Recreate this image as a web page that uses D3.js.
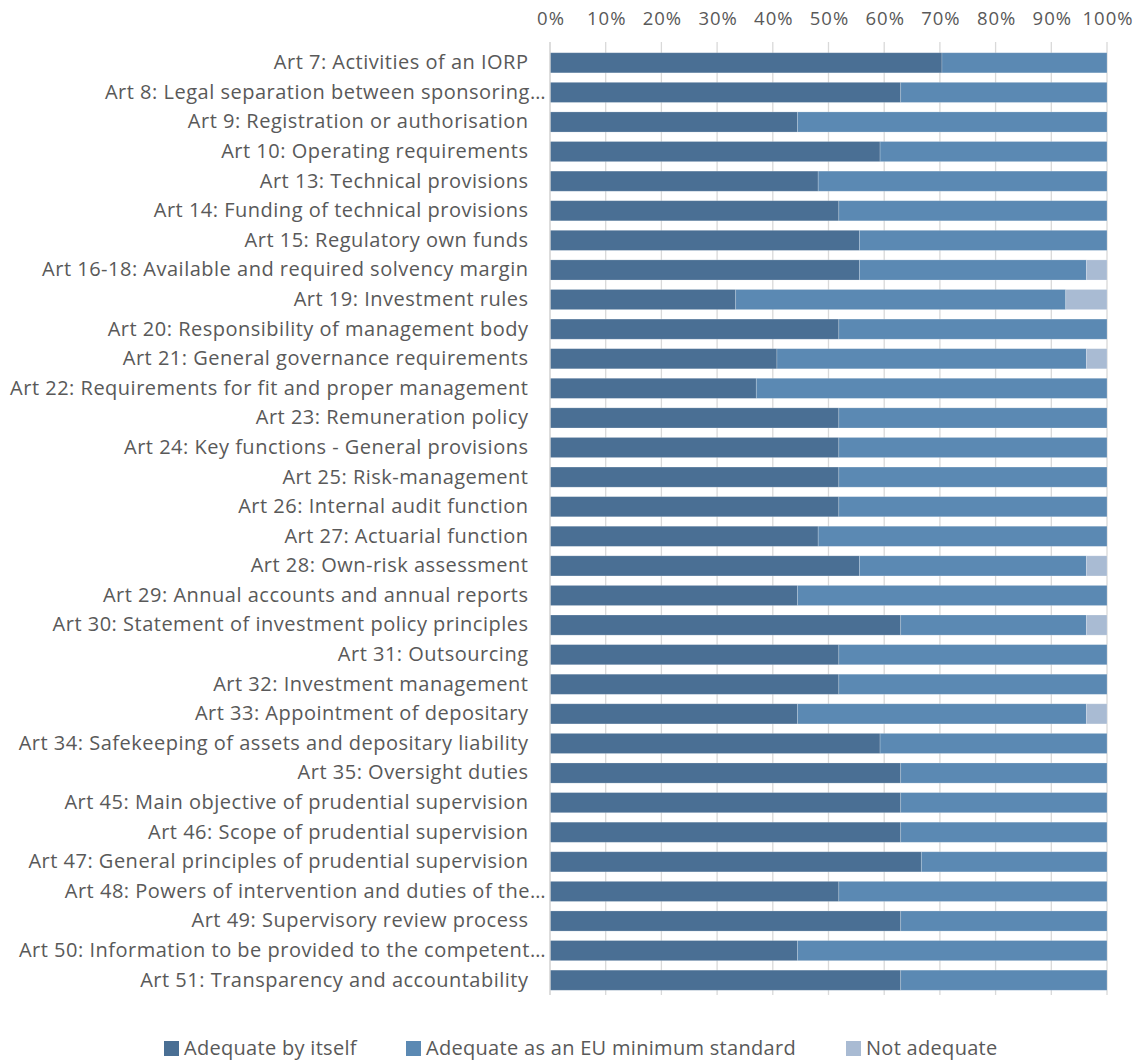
<!DOCTYPE html>
<html>
<head>
<meta charset="utf-8">
<script src="https://cdn.jsdelivr.net/npm/d3@7"></script>
<style>
  html, body { margin: 0; padding: 0; background: #fff; }
  svg text { font-family: "Open Sans", "Noto Sans", sans-serif; fill: #595959; }
</style>
</head>
<body>
<svg id="chart" width="1142" height="1061"></svg>
<script>
// Articles assessed (top to bottom)
const articles = [
  "Art 7: Activities of an IORP",
  "Art 8: Legal separation between sponsoring…",
  "Art 9: Registration or authorisation",
  "Art 10: Operating requirements",
  "Art 13: Technical provisions",
  "Art 14: Funding of technical provisions",
  "Art 15: Regulatory own funds",
  "Art 16-18: Available and required solvency margin",
  "Art 19: Investment rules",
  "Art 20: Responsibility of management body",
  "Art 21: General governance requirements",
  "Art 22: Requirements for fit and proper management",
  "Art 23: Remuneration policy",
  "Art 24: Key functions - General provisions",
  "Art 25: Risk-management",
  "Art 26: Internal audit function",
  "Art 27: Actuarial function",
  "Art 28: Own-risk assessment",
  "Art 29: Annual accounts and annual reports",
  "Art 30: Statement of investment policy principles",
  "Art 31: Outsourcing",
  "Art 32: Investment management",
  "Art 33: Appointment of depositary",
  "Art 34: Safekeeping of assets and depositary liability",
  "Art 35: Oversight duties",
  "Art 45: Main objective of prudential supervision",
  "Art 46: Scope of prudential supervision",
  "Art 47: General principles of prudential supervision",
  "Art 48: Powers of intervention and duties of the…",
  "Art 49: Supervisory review process",
  "Art 50: Information to be provided to the competent…",
  "Art 51: Transparency and accountability"
];

// Number of responses per assessment (27 respondents per article)
const adequateByItself = [19,17,12,16,13,14,15,15, 9,14,11,10,14,14,14,14,13,15,12,17,14,14,12,16,17,17,17,18,14,17,12,17];
const adequateMinimum  = [ 8,10,15,11,14,13,12,11,16,13,15,17,13,13,13,13,14,11,15, 9,13,13,14,11,10,10,10, 9,13,10,15,10];
const notAdequate      = [ 0, 0, 0, 0, 0, 0, 0, 1, 2, 0, 1, 0, 0, 0, 0, 0, 0, 1, 0, 1, 0, 0, 1, 0, 0, 0, 0, 0, 0, 0, 0, 0];

const seriesNames = ["Adequate by itself", "Adequate as an EU minimum standard", "Not adequate"];
const seriesColors = ["#4a6f94", "#5b89b3", "#a9bbd3"];
const tickValues = [0, 0.1, 0.2, 0.3, 0.4, 0.5, 0.6, 0.7, 0.8, 0.9, 1.0];

const rows = articles.map((a, i) => ({
  article: a,
  [seriesNames[0]]: adequateByItself[i],
  [seriesNames[1]]: adequateMinimum[i],
  [seriesNames[2]]: notAdequate[i]
}));

const stacked = d3.stack()
  .keys(seriesNames)
  .offset(d3.stackOffsetExpand)(rows);

const svg = d3.select("#chart");
const plot = { left: 550, right: 1107, top: 48, bottom: 995 };

const x = d3.scaleLinear().domain([0, 1]).range([plot.left, plot.right]);
const y = d3.scaleBand()
  .domain(articles)
  .range([plot.top, plot.bottom])
  .paddingInner(0.32)
  .paddingOuter(0.16);
const color = d3.scaleOrdinal().domain(seriesNames).range(seriesColors);

// Vertical gridlines
svg.append("g")
  .selectAll("line")
  .data(tickValues)
  .join("line")
  .attr("x1", d => x(d)).attr("x2", d => x(d))
  .attr("y1", plot.top - 6).attr("y2", plot.bottom)
  .attr("stroke", "#d9d9d9")
  .attr("stroke-width", 1.3);

// Percentage axis along the top
const xAxis = svg.append("g")
  .attr("transform", `translate(0,${plot.top - 23})`)
  .call(d3.axisTop(x).tickValues(tickValues).tickFormat(d3.format(".0%")).tickSize(0).tickPadding(0));
xAxis.select(".domain").remove();
xAxis.selectAll("text")
  .style("font-size", "18.5px")
  .style("letter-spacing", "1px")
  .attr("dx", "0.5")
  .attr("fill", "#595959");

// Stacked bars
svg.append("g")
  .selectAll("g")
  .data(stacked)
  .join("g")
  .attr("fill", d => color(d.key))
  .selectAll("rect")
  .data(d => d)
  .join("rect")
  .attr("x", d => x(d[0]))
  .attr("width", d => x(d[1]) - x(d[0]))
  .attr("y", d => y(d.data.article))
  .attr("height", y.bandwidth())
  .attr("stroke", "#ffffff")
  .attr("stroke-opacity", 0.25)
  .attr("stroke-width", 0.8);

// Category axis on the left
const yAxis = svg.append("g")
  .attr("transform", `translate(${plot.left},0)`)
  .call(d3.axisLeft(y).tickSize(0).tickPadding(22));
yAxis.select(".domain").attr("stroke", "#d9d9d9").attr("stroke-width", 1.3)
  .attr("d", `M0,${plot.top - 6}V${plot.bottom}`);
yAxis.selectAll("text")
  .style("font-size", "20px")
  .style("letter-spacing", "0.5px")
  .attr("fill", "#595959")
  .attr("dx", d => d.endsWith("…") ? 18 : 0.5);

// Legend
const legendX = [164, 406, 846];
const legend = svg.append("g").attr("transform", "translate(0,1048)");
const items = legend.selectAll("g")
  .data(seriesNames)
  .join("g")
  .attr("transform", (d, i) => `translate(${legendX[i]},0)`);
items.append("rect")
  .attr("x", 0).attr("y", -7)
  .attr("width", 15).attr("height", 15)
  .attr("fill", d => color(d));
items.append("text")
  .attr("x", 20).attr("y", 0)
  .attr("dy", "0.35em")
  .style("font-size", "20px")
  .style("letter-spacing", "0.3px")
  .text(d => d);
</script>
</body>
</html>
